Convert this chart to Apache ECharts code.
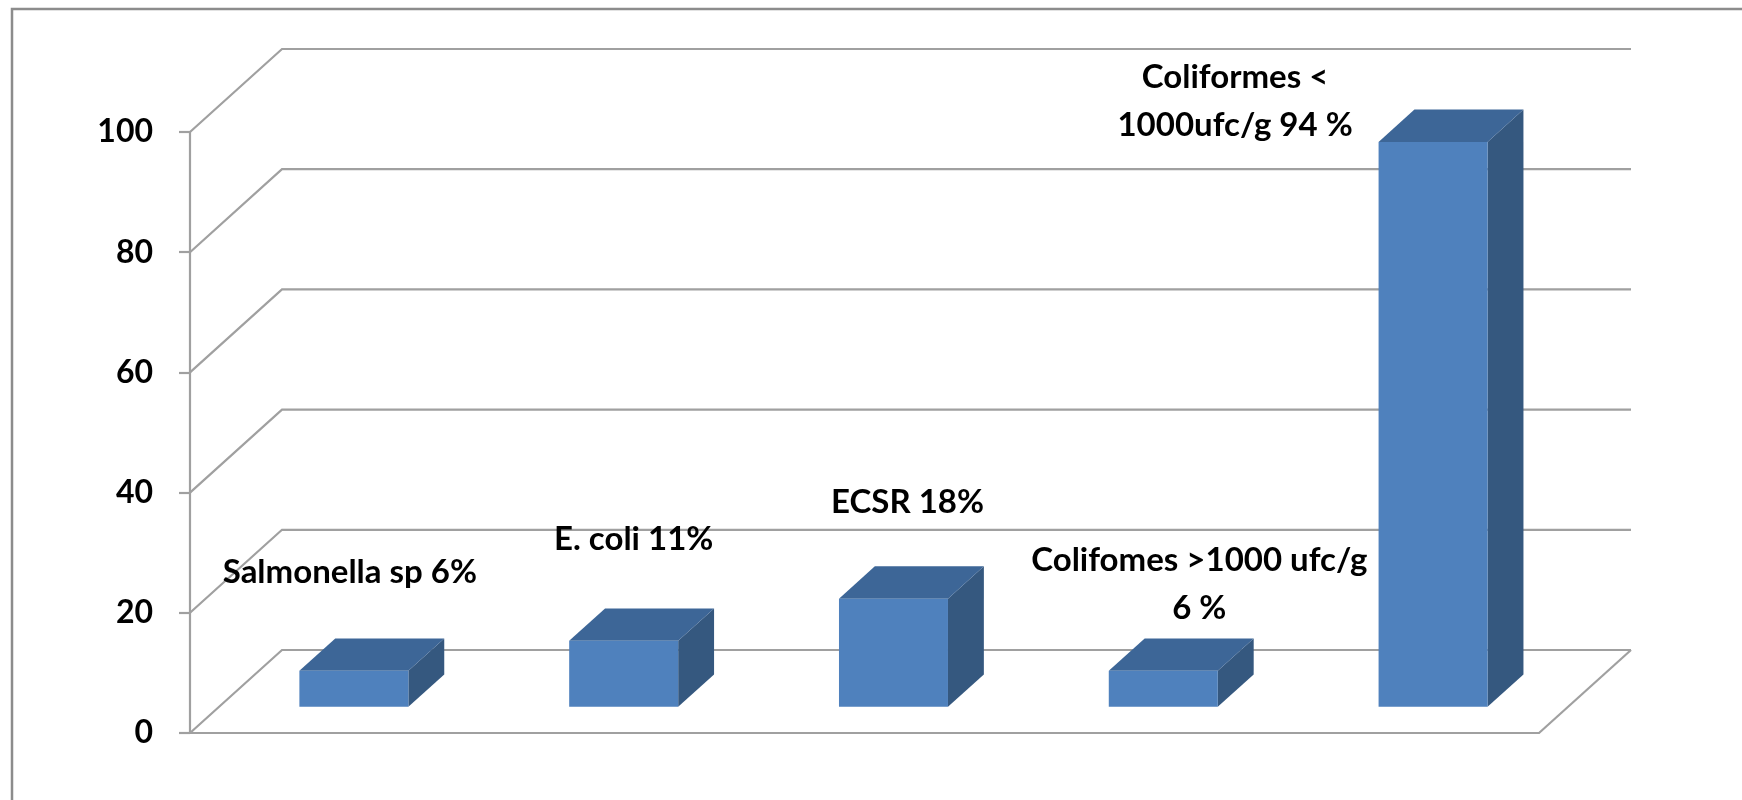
<!DOCTYPE html>
<html><head><meta charset="utf-8">
<script src="https://cdn.jsdelivr.net/npm/echarts@6/dist/echarts.min.js"></script>
<style>html,body{margin:0;padding:0;background:#fff}#chart{width:1742px;height:800px}</style>
</head><body><div id="chart"></div>
<script>
// ---- data ----
const categories = ['Salmonella sp', 'E. coli', 'ECSR', 'Colifomes >1000 ufc/g', 'Coliformes < 1000ufc/g'];
const values = [6, 11, 18, 6, 94];
const barLabels = ['Salmonella sp 6%', 'E. coli 11%', 'ECSR 18%', 'Colifomes >1000 ufc/g\n6 %', 'Coliformes <\n1000ufc/g 94 %'];
const yTicks = [0, 20, 40, 60, 80, 100];

// ---- layout / style ----
const DEPTH = [92, -83];           // full floor depth, pixels
const BAR_FRONT = 0.315;           // bar front plane as fraction of depth
const BAR_DEPTH = 0.39;            // bar depth as fraction of depth
const BAR_W = 0.404;               // bar width as fraction of band
const LABEL_OFFSETS = [[-4, -98], [10, -101], [14, -96], [36, -86], [-198, -41]];
const GRID_COLOR = '#a0a0a0';
const FONT = 'Lato, "Open Sans", "Liberation Sans", sans-serif';
const FRONT = '#4F81BD', TOP = '#3D6697', SIDE = '#35587F';

function renderWall(params, api) {
  const cs = params.coordSys;
  const v = api.value(1);
  const y = api.coord([0, v])[1];
  const x0 = cs.x, x1 = cs.x + cs.width;
  const st = { stroke: GRID_COLOR, lineWidth: 2.2, fill: null };
  const children = [{
    type: 'polyline',
    shape: { points: [[x0, y], [x0 + DEPTH[0], y + DEPTH[1]], [x1 + DEPTH[0], y + DEPTH[1]]] },
    style: st
  }];
  if (v === 0) {
    children.push({ type: 'line', shape: { x1: x1, y1: y, x2: x1 + DEPTH[0], y2: y + DEPTH[1] }, style: st });
  }
  return { type: 'group', children: children };
}

function renderBar(params, api) {
  const i = api.value(0), v = api.value(1);
  const top = api.coord([i, v]), base = api.coord([i, 0]);
  const band = api.size([1, 0])[0];
  const w = band * BAR_W;
  const ox = DEPTH[0] * BAR_FRONT, oy = DEPTH[1] * BAR_FRONT;
  const dx = DEPTH[0] * BAR_DEPTH, dy = DEPTH[1] * BAR_DEPTH;
  const xl = top[0] - w / 2 + ox, xr = top[0] + w / 2 + ox;
  const yt = top[1] + oy, yb = base[1] + oy;
  const xc = (xl + xr) / 2;
  const off = LABEL_OFFSETS[params.dataIndex];
  return {
    type: 'group',
    children: [
      { type: 'polygon', shape: { points: [[xr, yt], [xr + dx, yt + dy], [xr + dx, yb + dy], [xr, yb]] }, style: { fill: SIDE } },
      { type: 'polygon', shape: { points: [[xl, yt], [xl + dx, yt + dy], [xr + dx, yt + dy], [xr, yt]] }, style: { fill: TOP } },
      { type: 'rect', shape: { x: xl, y: yt, width: w, height: yb - yt }, style: { fill: FRONT } },
      { type: 'text', x: xc + off[0], y: yt + off[1],
        style: { text: barLabels[params.dataIndex], fill: '#000', fontSize: 33, fontWeight: 'bold', fontFamily: FONT,
                 align: 'center', verticalAlign: 'middle', lineHeight: 48 } }
    ]
  };
}

const chart = echarts.init(document.getElementById('chart'), null, { renderer: 'canvas' });
chart.setOption({
  animation: false,
  backgroundColor: '#fff',
  graphic: [{
    type: 'polyline', z: 100,
    shape: { points: [[12, 800], [12, 9], [1742, 9]] },
    style: { stroke: '#8c8c8c', lineWidth: 2.5, fill: null }
  }],
  grid: { left: 190, top: 132, width: 1349, height: 601 },
  xAxis: {
    type: 'category', data: categories,
    axisLine: { show: true, lineStyle: { color: GRID_COLOR, width: 2.2 } },
    axisTick: { show: false }, axisLabel: { show: false }, splitLine: { show: false }
  },
  yAxis: {
    type: 'value', min: 0, max: 100, interval: 20,
    axisLine: { show: true, lineStyle: { color: GRID_COLOR, width: 2.2 } },
    axisTick: { show: true, length: 11, lineStyle: { color: GRID_COLOR, width: 2.2 } },
    axisLabel: { color: '#000', fontSize: 32, fontWeight: 'bold', fontFamily: FONT, margin: 37 },
    splitLine: { show: false }
  },
  series: [
    { type: 'custom', z: 1, silent: true, clip: false, renderItem: renderWall,
      data: yTicks.map(v => [0, v]), encode: { x: 0, y: 1 } },
    { type: 'custom', z: 5, silent: true, clip: false, renderItem: renderBar,
      data: values.map((v, i) => [i, v]), encode: { x: 0, y: 1 } }
  ]
});
</script>
</body></html>
